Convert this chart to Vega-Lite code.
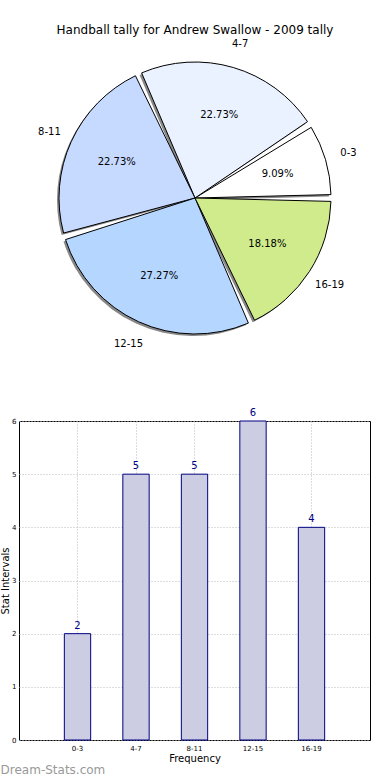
{
  "$schema": "https://vega.github.io/schema/vega-lite/v6.json",
  "padding": {"top": 24, "left": 0, "right": 0, "bottom": 0},
  "spacing": 58,
  "config": {
    "font": "DejaVu Sans",
    "view": {"stroke": null}
  },
  "datasets": {
    "tally": [
      {"i": 0, "interval": "0-3", "count": 2, "pct": "9.09%"},
      {"i": 1, "interval": "4-7", "count": 5, "pct": "22.73%"},
      {"i": 2, "interval": "8-11", "count": 5, "pct": "22.73%"},
      {"i": 3, "interval": "12-15", "count": 6, "pct": "27.27%"},
      {"i": 4, "interval": "16-19", "count": 4, "pct": "18.18%"}
    ]
  },
  "vconcat": [
    {
      "width": 352,
      "height": 300,
      "title": {"text": "Handball tally for Andrew Swallow - 2009 tally", "fontSize": 12, "fontWeight": "normal", "color": "black", "offset": 2},
      "data": {"name": "tally"},
      "encoding": {
        "theta": {"field": "count", "type": "quantitative", "stack": true, "scale": {"range": [1.5707963, -4.712389]}},
        "order": {"field": "i", "type": "quantitative"}
      },
      "layer": [
        {
          "mark": {"type": "arc", "outerRadius": 136, "padAngle": 0.05, "fill": "#888888", "xOffset": -2, "yOffset": 2}
        },
        {
          "mark": {"type": "arc", "outerRadius": 136, "padAngle": 0.05, "stroke": "black", "strokeWidth": 1},
          "encoding": {
            "color": {"field": "interval", "type": "nominal", "legend": null,
              "scale": {"domain": ["0-3", "4-7", "8-11", "12-15", "16-19"], "range": ["#FFFFFF", "#EAF1FF", "#C6D9FF", "#B5D6FF", "#CFEB8B"]}}
          }
        },
        {
          "mark": {"type": "text", "radius": 86, "fontSize": 10, "color": "black"},
          "encoding": {"text": {"field": "pct"}}
        },
        {
          "mark": {"type": "text", "radius": 160, "fontSize": 10, "color": "black"},
          "encoding": {"text": {"field": "interval"}}
        }
      ]
    },
    {
      "width": 351,
      "height": 319,
      "view": {"stroke": "black", "strokeWidth": 1},
      "title": {"text": "Dream-Stats.com", "orient": "bottom", "anchor": "start", "frame": "bounds", "fontSize": 12, "fontWeight": "normal", "color": "#999999", "offset": 2},
      "data": {"name": "tally"},
      "encoding": {
        "x": {"field": "interval", "type": "nominal", "sort": ["0-3", "4-7", "8-11", "12-15", "16-19"],
          "scale": {"paddingInner": 0.55, "paddingOuter": 0.775},
          "axis": {"title": "Frequency", "titleFontSize": 10, "titleFontWeight": "normal", "titlePadding": 2, "labelFontSize": 7, "labelAngle": 0, "labelPadding": 4, "ticks": false, "domain": false, "bandPosition": 0.5, "grid": true, "gridColor": "#BBBBBB", "gridDash": [1, 2], "labelColor": "black", "titleColor": "black"}},
        "y": {"field": "count", "type": "quantitative",
          "scale": {"domain": [0, 6], "nice": false},
          "axis": {"title": "Stat Intervals", "titleFontSize": 10, "titleFontWeight": "normal", "titlePadding": 1, "labelFontSize": 7, "labelPadding": 3, "ticks": false, "domain": false, "tickCount": 6, "grid": true, "gridColor": "#BBBBBB", "gridDash": [1, 2], "labelColor": "black", "titleColor": "black"}}
      },
      "layer": [
        {"mark": {"type": "bar", "fill": "#CCCCE3", "stroke": "#000080", "strokeWidth": 1}},
        {"mark": {"type": "text", "baseline": "bottom", "dy": -3, "fontSize": 10, "color": "#000080", "clip": false},
          "encoding": {"text": {"field": "count", "type": "quantitative"}}}
      ]
    }
  ]
}
